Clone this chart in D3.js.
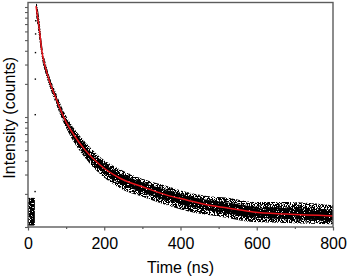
<!DOCTYPE html>
<html>
<head>
<meta charset="utf-8">
<script src="https://cdn.jsdelivr.net/npm/d3@7"></script>
<style>
  body { margin: 0; background: #fff; }
  text { font-family: "Liberation Sans", Arial, sans-serif; }
</style>
</head>
<body>
<div id="chart-container"></div>
<script>
// data (time in ns, intensity in counts, log axis)
const time = [21, 30, 36, 49, 73, 100, 120, 150, 189, 240, 302, 364, 416, 469, 524, 591, 678, 800]
const fitCounts = [1021, 618, 406, 256, 149, 90, 69, 50, 36.6, 27.9, 23.1, 19.5, 17.6, 15.9, 14.9, 13.7, 13.1, 12.6]
// spread of the measured points around the fit
const upperCounts = [1150, 762, 472, 287, 167, 102, 79.4, 59.3, 43.3, 33.7, 27.3, 23.6, 20.8, 19.1, 18.4, 16.9, 16.9, 15.8]
const lowerCounts = [850, 500, 352, 230, 133, 79.4, 59.3, 42.4, 30.3, 22.6, 18.7, 15.8, 14.0, 12.9, 12.1, 11.1, 10.9, 10.6]
// background before the pulse
const baseTime = [0, 18]
const baseUpper = [18.4, 18.4]
const baseLower = [10.3, 10.3]
// rising edge points
const riseTime = [18.6, 19.0, 19.3, 19.6, 19.9, 20.2]
const riseCounts = [21, 105, 221, 385, 569, 750]
const xTicks = [0, 200, 400, 600, 800]
const xMinor = [100, 300, 500, 700]

const width = 348
const height = 279
const margin = {left: 28, top: 2.5, right: 15, bottom: 52}
const axisColor = '#5c5c5c'

const svg = d3.select('#chart-container')
  .append('svg')
  .attr('width', width)
  .attr('height', height)

const xScale = d3.scaleLinear()
  .domain([0, 800])
  .range([margin.left, width - margin.right])

const yScale = d3.scaleLog()
  .domain([10, 1099])
  .range([height - margin.bottom, margin.top])

const defs = svg.append('defs')

// grainy texture so the filled band reads as a cloud of single points
function speckle (id, seed, gain, offset) {
  const f = defs.append('filter')
    .attr('id', id)
    .attr('filterUnits', 'userSpaceOnUse')
    .attr('x', 0).attr('y', 0).attr('width', width).attr('height', height)
  f.append('feTurbulence')
    .attr('type', 'fractalNoise')
    .attr('baseFrequency', 0.85)
    .attr('numOctaves', 2)
    .attr('seed', seed)
    .attr('result', 'noise')
  f.append('feColorMatrix')
    .attr('in', 'noise')
    .attr('type', 'matrix')
    .attr('values', `0 0 0 0 0  0 0 0 0 0  0 0 0 0 0  ${gain} 0 0 0 ${offset}`)
    .attr('result', 'mask')
  f.append('feComposite')
    .attr('in', 'SourceGraphic')
    .attr('in2', 'mask')
    .attr('operator', 'in')
}
speckle('sparse', 4, 18, -7.9)
speckle('dense', 9, 18, -6.0)

defs.append('clipPath').attr('id', 'plot-clip')
  .append('rect')
  .attr('x', margin.left).attr('y', margin.top)
  .attr('width', width - margin.left - margin.right)
  .attr('height', height - margin.top - margin.bottom)

const plot = svg.append('g').attr('clip-path', 'url(#plot-clip)')

const band = time.map((t, i) => ({t, hi: upperCounts[i], lo: lowerCounts[i], fit: fitCounts[i]}))

const outerArea = d3.area()
  .x(d => xScale(d.t))
  .y0(d => yScale(d.lo))
  .y1(d => yScale(d.hi))
  .curve(d3.curveMonotoneX)

plot.append('path')
  .datum(band)
  .attr('d', outerArea)
  .attr('fill', '#000')
  .attr('filter', 'url(#sparse)')

// denser core of the cloud
const coreArea = d3.area()
  .x(d => xScale(d.t))
  .y0(d => (yScale(d.lo) + yScale(d.fit)) / 2 + 0.5)
  .y1(d => (yScale(d.hi) + yScale(d.fit)) / 2 - 0.5)
  .curve(d3.curveMonotoneX)

plot.append('path')
  .datum(band)
  .attr('d', coreArea)
  .attr('fill', '#000')
  .attr('filter', 'url(#dense)')

const base = baseTime.map((t, i) => ({t, hi: baseUpper[i], lo: baseLower[i]}))
plot.append('path')
  .datum(base)
  .attr('d', d3.area()
    .x(d => xScale(d.t))
    .y0(d => yScale(d.lo))
    .y1(d => yScale(d.hi)))
  .attr('fill', '#000')
  .attr('filter', 'url(#dense)')

plot.selectAll('.rise')
  .data(riseTime).enter()
  .append('rect')
  .attr('class', 'rise')
  .attr('x', d => xScale(d) - 0.7)
  .attr('y', (d, i) => yScale(riseCounts[i]) - 0.7)
  .attr('width', 1.4).attr('height', 1.4)
  .attr('fill', '#000')

const line = d3.line()
  .x(d => xScale(d.t))
  .y(d => yScale(d.fit))
  .curve(d3.curveMonotoneX)

plot.append('path')
  .datum(band)
  .attr('d', line)
  .attr('fill', 'none')
  .attr('stroke', '#e8141b')
  .attr('stroke-width', 1.5)

// frame
svg.append('rect')
  .attr('x', margin.left).attr('y', margin.top)
  .attr('width', width - margin.left - margin.right)
  .attr('height', height - margin.top - margin.bottom)
  .attr('fill', 'none')
  .attr('stroke', axisColor)
  .attr('stroke-width', 1.4)

// x axis
const xAxisG = svg.append('g')
  .attr('transform', `translate(0, ${height - margin.bottom})`)
  .call(d3.axisBottom(xScale).tickValues(xTicks).tickSize(3.5).tickPadding(7).tickFormat(d3.format('d')))
xAxisG.append('g')
  .call(d3.axisBottom(xScale).tickValues(xMinor).tickSize(2).tickFormat(''))
svg.selectAll('.domain').remove()
xAxisG.selectAll('line').attr('stroke', axisColor).attr('stroke-width', 1.2)
xAxisG.selectAll('text')
  .attr('font-size', '16px')
  .attr('fill', '#000')
  .attr('font-family', '"Liberation Sans", Arial, sans-serif')

// y axis, log ticks without labels
const yTicks = yScale.ticks().filter(d => d >= 10 && d <= 1000)
const yAxisG = svg.append('g')
  .attr('transform', `translate(${margin.left}, 0)`)
  .call(d3.axisLeft(yScale).tickValues(yTicks).tickSize(3).tickFormat(''))
yAxisG.select('.domain').remove()
yAxisG.selectAll('line').attr('stroke', axisColor).attr('stroke-width', 1.1)

svg.append('text')
  .attr('x', (margin.left + width - margin.right) / 2)
  .attr('y', 273)
  .attr('text-anchor', 'middle')
  .attr('font-size', '16px')
  .text('Time (ns)')

svg.append('text')
  .attr('transform', `translate(15, ${(margin.top + height - margin.bottom) / 2 + 3}) rotate(-90)`)
  .attr('text-anchor', 'middle')
  .attr('font-size', '16px')
  .text('Intensity (counts)')
</script>
</body>
</html>
